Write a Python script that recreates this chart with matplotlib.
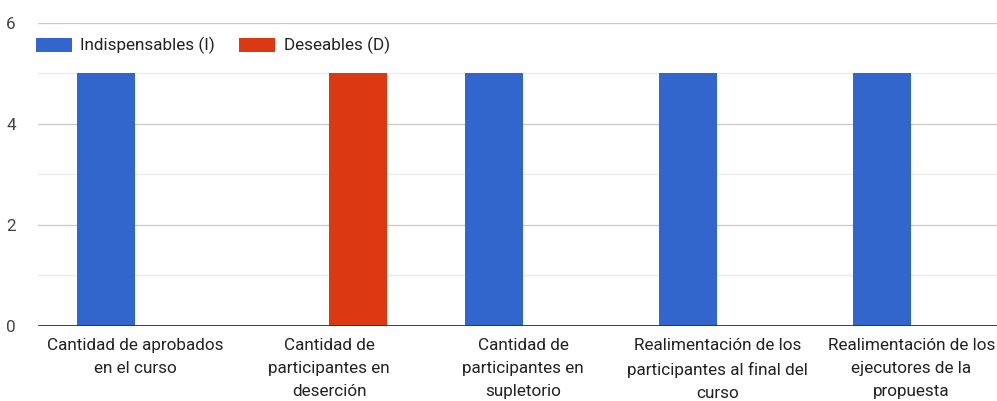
import matplotlib
matplotlib.use("Agg")
import matplotlib.pyplot as plt
import numpy as np

plt.rcParams['font.family'] = ['Roboto', 'DejaVu Sans']

categories = [
    "Cantidad de aprobados\nen el curso",
    "Cantidad de\nparticipantes en\ndeserción",
    "Cantidad de\nparticipantes en\nsupletorio",
    "Realimentación de los\nparticipantes al final del\ncurso",
    "Realimentación de los\nejecutores de la\npropuesta",
]
indispensables = [5, 0, 5, 5, 5]
deseables = [0, 5, 0, 0, 0]
series_names = ["Indispensables (I)", "Deseables (D)"]
yticks = [0, 2, 4, 6]

W, H = 997, 401
fig = plt.figure(figsize=(W / 100, H / 100), dpi=100)
ax = fig.add_axes([38 / W, (H - 325.5) / H, (997 - 38) / W, (325.5 - 23) / H])

x = np.arange(len(categories))
bw = 0.3
ax.bar(x - bw / 2, indispensables, bw, color="#3366cc", label=series_names[0], zorder=3)
ax.bar(x + bw / 2, deseables, bw, color="#dc3912", label=series_names[1], zorder=3)

ax.set_xlim(-0.5, (997 - 135.5) / 194)
ax.set_ylim(0, 6)
ax.set_yticks(yticks)
ax.set_yticks([1, 3, 5], minor=True)
ax.grid(axis="y", which="major", color="#cccccc", linewidth=1, zorder=0)
ax.grid(axis="y", which="minor", color="#ebebeb", linewidth=1, zorder=0)
ax.axhline(0, color="#333333", linewidth=1.3, zorder=4)

ax.set_xticks(x)
ax.set_xticklabels(categories, fontsize=12.3, color="#222222", linespacing=1.68)
ax.tick_params(axis="x", length=0, pad=9)
ax.tick_params(axis="y", which="both", length=0, pad=16, labelsize=12.3, labelcolor="#444444")

for s in ax.spines.values():
    s.set_visible(False)

leg = ax.legend(loc="upper left", bbox_to_anchor=(-0.002, 0.953), ncol=2, frameon=False,
                fontsize=12.3, handlelength=2.1, handleheight=0.85, handletextpad=0.5,
                columnspacing=1.4, borderaxespad=0, borderpad=0)
for t in leg.get_texts():
    t.set_color("#222222")

fig.savefig("out.png", dpi=100, facecolor="white")
